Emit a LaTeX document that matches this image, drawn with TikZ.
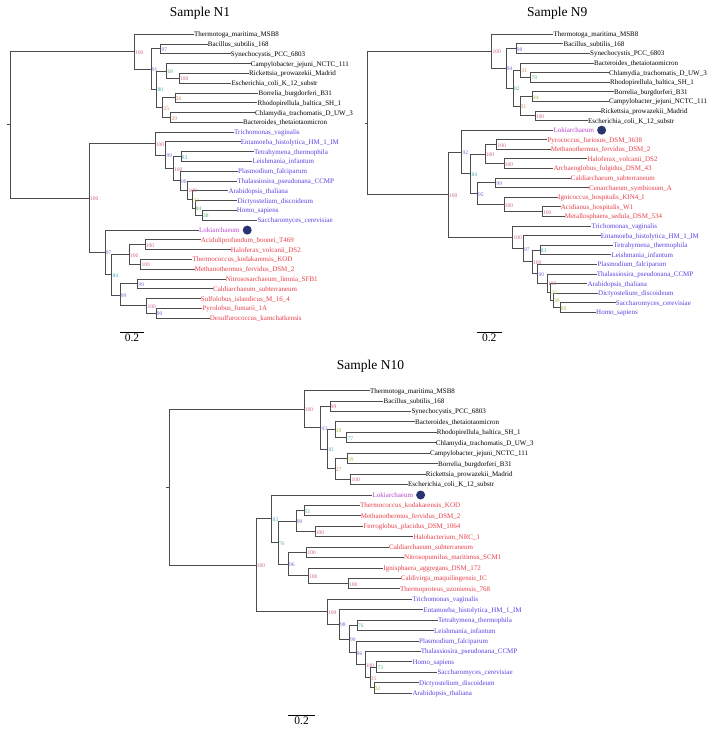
\documentclass[tikz,border=0pt]{standalone}
\usepackage{fontspec}
\setmainfont{Liberation Serif}
\usetikzlibrary{positioning}

\definecolor{ceuk}{RGB}{90,65,225}
\definecolor{carc}{RGB}{232,62,72}
\definecolor{clok}{RGB}{185,70,205}
\definecolor{cdot}{RGB}{42,52,112}
\definecolor{bsa}{RGB}{205,95,150}
\definecolor{bsb}{RGB}{125,100,210}
\definecolor{bsc}{RGB}{70,165,185}
\definecolor{bsd}{RGB}{85,180,110}
\definecolor{bse}{RGB}{185,180,70}
\definecolor{bsf}{RGB}{205,130,100}

\tikzset{
  br/.style={draw=black!70, line width=1pt, line cap=rect},
  leaf/.style={anchor=west, inner xsep=0.7pt, inner ysep=0pt, text height=1.5ex, text depth=0.45ex, font=\fontsize{7}{8}\selectfont},
  bac/.style={leaf, text=black},
  euk/.style={leaf, text=ceuk},
  arc/.style={leaf, text=carc},
  lok/.style={leaf, text=clok},
  bs/.style={anchor=west, inner xsep=0.6pt, inner ysep=0pt, text height=1.5ex, text depth=0.4ex, font=\fontsize{5.5}{6}\selectfont, text=#1},
  lokidot/.style={circle, fill=cdot, minimum size=9pt, inner sep=0pt},
  treetitle/.style={font=\fontsize{13.5}{15}\selectfont},
  scalebar/.style={draw=black, line width=0.6pt},
  scalelbl/.style={font=\fontsize{11.5}{13}\selectfont, inner sep=1pt},
}

\begin{document}
\begin{tikzpicture}[x=1pt, y=-1pt]
\useasboundingbox (0,0) rectangle (711,734);

% Sample N1
\node[treetitle] (n1title) at (200,13.3) {Sample N1};
\begin{scope}[yshift=-34.3pt, y=-9.79pt]
% leaves
\node[bac] (n1thermo) at (193.3,0) {Thermotoga\_maritima\_MSB8};
\node[bac] (n1bacil) at (207,1) {Bacillus\_subtilis\_168};
\node[bac] (n1synec) at (230,2) {Synechocystis\_PCC\_6803};
\node[bac] (n1campy) at (250,3) {Campylobacter\_jejuni\_NCTC\_111};
\node[bac] (n1ricke) at (248.3,4) {Rickettsia\_prowazekii\_Madrid};
\node[bac] (n1esche) at (230.7,5) {Escherichia\_coli\_K\_12\_substr};
\node[bac] (n1borre) at (257.7,6) {Borrelia\_burgdorferi\_B31};
\node[bac] (n1rhodo) at (256.7,7) {Rhodopirellula\_baltica\_SH\_1};
\node[bac] (n1chlam) at (254.3,8) {Chlamydia\_trachomatis\_D\_UW\_3};
\node[bac] (n1bacte) at (242.3,9) {Bacteroides\_thetaiotaomicron};
\node[euk] (n1trich) at (233.3,10) {Trichomonas\_vaginalis};
\node[euk] (n1entam) at (240,11) {Entamoeba\_histolytica\_HM\_1\_IM};
\node[euk] (n1tetra) at (253.3,12) {Tetrahymena\_thermophila};
\node[euk] (n1leish) at (251.7,13) {Leishmania\_infantum};
\node[euk] (n1plasm) at (237.3,14) {Plasmodium\_falciparum};
\node[euk] (n1thala) at (236.7,15) {Thalassiosira\_pseudonana\_CCMP};
\node[euk] (n1arabi) at (227.7,16) {Arabidopsis\_thaliana};
\node[euk] (n1dicty) at (236.7,17) {Dictyostelium\_discoideum};
\node[euk] (n1homo) at (236,18) {Homo\_sapiens};
\node[euk] (n1sacch) at (256.7,19) {Saccharomyces\_cerevisiae};
\node[lok] (n1loki) at (198.3,20) {Lokiarchaeum};
\node[lokidot, right=2pt of n1loki] (n1dot) {};
\node[arc] (n1acidu) at (200,21) {Aciduliprofundum\_boonei\_T469};
\node[arc] (n1halof) at (230,22) {Haloferax\_volcanii\_DS2};
\node[arc] (n1tkoda) at (191.7,23) {Thermococcus\_kodakarensis\_KOD};
\node[arc] (n1metha) at (194,24) {Methanothermus\_fervidus\_DSM\_2};
\node[arc] (n1nitro) at (225,25) {Nitrososarchaeum\_limnia\_SFB1};
\node[arc] (n1caldi) at (212.3,26) {Caldiarchaeum\_subterraneum};
\node[arc] (n1sulfo) at (200,27) {Sulfolobus\_islandicus\_M\_16\_4};
\node[arc] (n1pyrol) at (201.7,28) {Pyrolobus\_fumarii\_1A};
\node[arc] (n1desul) at (209,29) {Desulfurococcus\_kamchatkensis};
% inner nodes
\coordinate (n1stub) at (7.7,9.26);
\coordinate (n1root) at (10.7,9.26);
\coordinate (n1A) at (134.3,1.78);
\coordinate (n1B) at (151,3.56);
\coordinate (n1C) at (160.7,1.5);
\coordinate (n1D) at (156.7,5.63);
\coordinate (n1E) at (166.7,3.75);
\coordinate (n1G) at (179.3,4.5);
\coordinate (n1F) at (162.7,7.5);
\coordinate (n1H) at (175,6.5);
\coordinate (n1I) at (170.7,8.5);
\coordinate (n1R) at (89.3,16.73);
\coordinate (n1J) at (155,11.18);
\coordinate (n1L) at (165.7,12.37);
\coordinate (n1M) at (173.3,13.73);
\coordinate (n1N) at (181,12.5);
\coordinate (n1O) at (180.3,14.97);
\coordinate (n1P) at (187.7,15.94);
\coordinate (n1Q) at (192.7,16.88);
\coordinate (n1S) at (195,17.75);
\coordinate (n1T) at (202.3,18.5);
\coordinate (n1K) at (105,22.28);
\coordinate (n1U) at (111.7,24.56);
\coordinate (n1V) at (129.3,22.5);
\coordinate (n1X) at (145,21.5);
\coordinate (n1Y) at (140.7,23.5);
\coordinate (n1W) at (120,26.63);
\coordinate (n1Z) at (137.7,25.5);
\coordinate (n1AA) at (146.7,27.75);
\coordinate (n1AB) at (156,28.5);
% branches
\draw[br] (n1stub) -- (n1root);
\draw[br] (n1root) |- (n1A) (n1root) |- (n1R);
\draw[br] (n1A) |- (n1thermo.west) (n1A) |- (n1B);
\draw[br] (n1B) |- (n1C) (n1B) |- (n1D);
\draw[br] (n1C) |- (n1bacil.west) (n1C) |- (n1synec.west);
\draw[br] (n1D) |- (n1E) (n1D) |- (n1F);
\draw[br] (n1E) |- (n1campy.west) (n1E) |- (n1G);
\draw[br] (n1G) |- (n1ricke.west) (n1G) |- (n1esche.west);
\draw[br] (n1F) |- (n1H) (n1F) |- (n1I);
\draw[br] (n1H) |- (n1borre.west) (n1H) |- (n1rhodo.west);
\draw[br] (n1I) |- (n1chlam.west) (n1I) |- (n1bacte.west);
\draw[br] (n1R) |- (n1J) (n1R) |- (n1K);
\draw[br] (n1J) |- (n1trich.west) (n1J) |- (n1L);
\draw[br] (n1L) |- (n1entam.west) (n1L) |- (n1M);
\draw[br] (n1M) |- (n1N) (n1M) |- (n1O);
\draw[br] (n1N) |- (n1tetra.west) (n1N) |- (n1leish.west);
\draw[br] (n1O) |- (n1plasm.west) (n1O) |- (n1P);
\draw[br] (n1P) |- (n1thala.west) (n1P) |- (n1Q);
\draw[br] (n1Q) |- (n1arabi.west) (n1Q) |- (n1S);
\draw[br] (n1S) |- (n1dicty.west) (n1S) |- (n1T);
\draw[br] (n1T) |- (n1homo.west) (n1T) |- (n1sacch.west);
\draw[br] (n1K) |- (n1loki.west) (n1K) |- (n1U);
\draw[br] (n1U) |- (n1V) (n1U) |- (n1W);
\draw[br] (n1V) |- (n1X) (n1V) |- (n1Y);
\draw[br] (n1X) |- (n1acidu.west) (n1X) |- (n1halof.west);
\draw[br] (n1Y) |- (n1tkoda.west) (n1Y) |- (n1metha.west);
\draw[br] (n1W) |- (n1Z) (n1W) |- (n1AA);
\draw[br] (n1Z) |- (n1nitro.west) (n1Z) |- (n1caldi.west);
\draw[br] (n1AA) |- (n1sulfo.west) (n1AA) |- (n1AB);
\draw[br] (n1AB) |- (n1pyrol.west) (n1AB) |- (n1desul.west);
% support values
\node[bs=bsa] (n1Ab) at (n1A) {100};
\node[bs=bsb] (n1Bb) at (n1B) {91};
\node[bs=bsb] (n1Cb) at (n1C) {97};
\node[bs=bsc] (n1Db) at (n1D) {80};
\node[bs=bsd] (n1Eb) at (n1E) {69};
\node[bs=bsa] (n1Gb) at (n1G) {100};
\node[bs=bsf] (n1Fb) at (n1F) {25};
\node[bs=bsf] (n1Hb) at (n1H) {26};
\node[bs=bsf] (n1Ib) at (n1I) {29};
\node[bs=bsa] (n1Rb) at (n1R) {100};
\node[bs=bsa] (n1Jb) at (n1J) {100};
\node[bs=bsb] (n1Lb) at (n1L) {99};
\node[bs=bsa] (n1Mb) at (n1M) {100};
\node[bs=bsc] (n1Nb) at (n1N) {83};
\node[bs=bsb] (n1Ob) at (n1O) {90};
\node[bs=bsa] (n1Pb) at (n1P) {100};
\node[bs=bse] (n1Qb) at (n1Q) {32};
\node[bs=bsd] (n1Sb) at (n1S) {84};
\node[bs=bsd] (n1Tb) at (n1T) {38};
\node[bs=bsb] (n1Kb) at (n1K) {97};
\node[bs=bsc] (n1Ub) at (n1U) {84};
\node[bs=bsa] (n1Vb) at (n1V) {100};
\node[bs=bsa] (n1Xb) at (n1X) {100};
\node[bs=bsa] (n1Yb) at (n1Y) {100};
\node[bs=bsb] (n1Wb) at (n1W) {99};
\node[bs=bsb] (n1Zb) at (n1Z) {99};
\node[bs=bsa] (n1AAb) at (n1AA) {100};
\node[bs=bsb] (n1ABb) at (n1AB) {90};
\end{scope}
\coordinate (n1sa) at (120,332.3);
\coordinate (n1sb) at (144,332.3);
\draw[scalebar] (n1sa) -- (n1sb) node[midway, below, scalelbl] (n1sl) {0.2};

% Sample N9
\node[treetitle] (n9title) at (557.2,13.3) {Sample N9};
\begin{scope}[yshift=-34.3pt, y=-9.59pt]
% leaves
\node[bac] (n9thermo) at (552.7,0) {Thermotoga\_maritima\_MSB8};
\node[bac] (n9bacil) at (562.7,1) {Bacillus\_subtilis\_168};
\node[bac] (n9synec) at (589.3,2) {Synechocystis\_PCC\_6803};
\node[bac] (n9bacte) at (593.3,3) {Bacteroides\_thetaiotaomicron};
\node[bac] (n9chlam) at (608.3,4) {Chlamydia\_trachomatis\_D\_UW\_3};
\node[bac] (n9rhodo) at (609.3,5) {Rhodopirellula\_baltica\_SH\_1};
\node[bac] (n9borre) at (613.3,6) {Borrelia\_burgdorferi\_B31};
\node[bac] (n9campy) at (608.3,7) {Campylobacter\_jejuni\_NCTC\_111};
\node[bac] (n9ricke) at (600,8) {Rickettsia\_prowazekii\_Madrid};
\node[bac] (n9esche) at (587.3,9) {Escherichia\_coli\_K\_12\_substr};
\node[lok] (n9loki) at (552.7,10) {Lokiarchaeum};
\node[lokidot, right=2pt of n9loki] (n9dot) {};
\node[arc] (n9pyroc) at (546.7,11) {Pyrococcus\_furiosus\_DSM\_3638};
\node[arc] (n9metha) at (550,12) {Methanothermus\_fervidus\_DSM\_2};
\node[arc] (n9halof) at (586.7,13) {Haloferax\_volcanii\_DS2};
\node[arc] (n9archa) at (552.7,14) {Archaeoglobus\_fulgidus\_DSM\_43};
\node[arc] (n9caldi) at (570,15) {Caldiarchaeum\_subterraneum};
\node[arc] (n9cenar) at (588.3,16) {Cenarchaeum\_symbiosum\_A};
\node[arc] (n9ignic) at (557.3,17) {Ignicoccus\_hospitalis\_KIN4\_I};
\node[arc] (n9acidi) at (560,18) {Acidianus\_hospitalis\_W1};
\node[arc] (n9metal) at (564,19) {Metallosphaera\_sedula\_DSM\_534};
\node[euk] (n9trich) at (590.7,20) {Trichomonas\_vaginalis};
\node[euk] (n9entam) at (600,21) {Entamoeba\_histolytica\_HM\_1\_IM};
\node[euk] (n9tetra) at (612.7,22) {Tetrahymena\_thermophila};
\node[euk] (n9leish) at (610.7,23) {Leishmania\_infantum};
\node[euk] (n9plasm) at (596.7,24) {Plasmodium\_falciparum};
\node[euk] (n9thala) at (596,25) {Thalassiosira\_pseudonana\_CCMP};
\node[euk] (n9arabi) at (586.7,26) {Arabidopsis\_thaliana};
\node[euk] (n9dicty) at (597.3,27) {Dictyostelium\_discoideum};
\node[euk] (n9sacch) at (615,28) {Saccharomyces\_cerevisiae};
\node[euk] (n9homo) at (595.3,29) {Homo\_sapiens};
% inner nodes
\coordinate (n9stub) at (365,9.26);
\coordinate (n9root) at (367.3,9.26);
\coordinate (n9A) at (491.7,1.78);
\coordinate (n9B) at (506,3.56);
\coordinate (n9C) at (516,1.5);
\coordinate (n9D) at (513.3,5.63);
\coordinate (n9E) at (520.7,3.75);
\coordinate (n9G) at (530.7,4.5);
\coordinate (n9F) at (520,7.5);
\coordinate (n9H) at (532.3,6.5);
\coordinate (n9I) at (535,8.5);
\coordinate (n9R) at (448.3,16.73);
\coordinate (n9K) at (461.7,12.28);
\coordinate (n9U) at (470.7,14.56);
\coordinate (n9V) at (485,12.5);
\coordinate (n9X) at (496.7,11.5);
\coordinate (n9Y) at (504,13.5);
\coordinate (n9W) at (477.3,16.63);
\coordinate (n9Z) at (495.7,15.5);
\coordinate (n9AA) at (504,17.75);
\coordinate (n9AB) at (542.3,18.5);
\coordinate (n9J) at (512.7,21.18);
\coordinate (n9L) at (523.3,22.37);
\coordinate (n9M) at (532.3,23.73);
\coordinate (n9N) at (540,22.5);
\coordinate (n9O) at (537.7,24.97);
\coordinate (n9P) at (547.3,25.94);
\coordinate (n9Q) at (550.7,26.88);
\coordinate (n9S) at (553.3,27.75);
\coordinate (n9T) at (560,28.5);
% branches
\draw[br] (n9stub) -- (n9root);
\draw[br] (n9root) |- (n9A) (n9root) |- (n9R);
\draw[br] (n9A) |- (n9thermo.west) (n9A) |- (n9B);
\draw[br] (n9B) |- (n9C) (n9B) |- (n9D);
\draw[br] (n9C) |- (n9bacil.west) (n9C) |- (n9synec.west);
\draw[br] (n9D) |- (n9E) (n9D) |- (n9F);
\draw[br] (n9E) |- (n9bacte.west) (n9E) |- (n9G);
\draw[br] (n9G) |- (n9chlam.west) (n9G) |- (n9rhodo.west);
\draw[br] (n9F) |- (n9H) (n9F) |- (n9I);
\draw[br] (n9H) |- (n9borre.west) (n9H) |- (n9campy.west);
\draw[br] (n9I) |- (n9ricke.west) (n9I) |- (n9esche.west);
\draw[br] (n9R) |- (n9K) (n9R) |- (n9J);
\draw[br] (n9K) |- (n9loki.west) (n9K) |- (n9U);
\draw[br] (n9U) |- (n9V) (n9U) |- (n9W);
\draw[br] (n9V) |- (n9X) (n9V) |- (n9Y);
\draw[br] (n9X) |- (n9pyroc.west) (n9X) |- (n9metha.west);
\draw[br] (n9Y) |- (n9halof.west) (n9Y) |- (n9archa.west);
\draw[br] (n9W) |- (n9Z) (n9W) |- (n9AA);
\draw[br] (n9Z) |- (n9caldi.west) (n9Z) |- (n9cenar.west);
\draw[br] (n9AA) |- (n9ignic.west) (n9AA) |- (n9AB);
\draw[br] (n9AB) |- (n9acidi.west) (n9AB) |- (n9metal.west);
\draw[br] (n9J) |- (n9trich.west) (n9J) |- (n9L);
\draw[br] (n9L) |- (n9entam.west) (n9L) |- (n9M);
\draw[br] (n9M) |- (n9N) (n9M) |- (n9O);
\draw[br] (n9N) |- (n9tetra.west) (n9N) |- (n9leish.west);
\draw[br] (n9O) |- (n9plasm.west) (n9O) |- (n9P);
\draw[br] (n9P) |- (n9thala.west) (n9P) |- (n9Q);
\draw[br] (n9Q) |- (n9arabi.west) (n9Q) |- (n9S);
\draw[br] (n9S) |- (n9dicty.west) (n9S) |- (n9T);
\draw[br] (n9T) |- (n9sacch.west) (n9T) |- (n9homo.west);
% support values
\node[bs=bsa] (n9Ab) at (n9A) {100};
\node[bs=bsb] (n9Bb) at (n9B) {94};
\node[bs=bsb] (n9Cb) at (n9C) {98};
\node[bs=bsd] (n9Db) at (n9D) {82};
\node[bs=bsf] (n9Eb) at (n9E) {31};
\node[bs=bsd] (n9Gb) at (n9G) {78};
\node[bs=bsf] (n9Fb) at (n9F) {31};
\node[bs=bse] (n9Hb) at (n9H) {44};
\node[bs=bsa] (n9Ib) at (n9I) {100};
\node[bs=bsa] (n9Rb) at (n9R) {100};
\node[bs=bsb] (n9Kb) at (n9K) {92};
\node[bs=bsc] (n9Ub) at (n9U) {84};
\node[bs=bsa] (n9Vb) at (n9V) {100};
\node[bs=bsa] (n9Xb) at (n9X) {100};
\node[bs=bsa] (n9Yb) at (n9Y) {100};
\node[bs=bsb] (n9Wb) at (n9W) {95};
\node[bs=bsb] (n9Zb) at (n9Z) {99};
\node[bs=bsa] (n9AAb) at (n9AA) {100};
\node[bs=bsa] (n9ABb) at (n9AB) {100};
\node[bs=bsa] (n9Jb) at (n9J) {100};
\node[bs=bsb] (n9Lb) at (n9L) {97};
\node[bs=bsa] (n9Mb) at (n9M) {100};
\node[bs=bsc] (n9Nb) at (n9N) {83};
\node[bs=bsb] (n9Ob) at (n9O) {90};
\node[bs=bsa] (n9Pb) at (n9P) {100};
\node[bs=bse] (n9Qb) at (n9Q) {32};
\node[bs=bse] (n9Sb) at (n9S) {39};
\node[bs=bse] (n9Tb) at (n9T) {88};
\end{scope}
\coordinate (n9sa) at (476.7,332.7);
\coordinate (n9sb) at (501.7,332.7);
\draw[scalebar] (n9sa) -- (n9sb) node[midway, below, scalelbl] (n9sl) {0.2};

% Sample N10
\node[treetitle] (n10title) at (370.5,366.7) {Sample N10};
\begin{scope}[yshift=-390.7pt, y=-10.43pt]
% leaves
\node[bac] (n10thermo) at (369.3,0) {Thermotoga\_maritima\_MSB8};
\node[bac] (n10bacil) at (382.7,1) {Bacillus\_subtilis\_168};
\node[bac] (n10synec) at (410.7,2) {Synechocystis\_PCC\_6803};
\node[bac] (n10bacte) at (414.3,3) {Bacteroides\_thetaiotaomicron};
\node[bac] (n10rhodo) at (436,4) {Rhodopirellula\_baltica\_SH\_1};
\node[bac] (n10chlam) at (435,5) {Chlamydia\_trachomatis\_D\_UW\_3};
\node[bac] (n10campy) at (429.3,6) {Campylobacter\_jejuni\_NCTC\_111};
\node[bac] (n10borre) at (437.3,7) {Borrelia\_burgdorferi\_B31};
\node[bac] (n10ricke) at (425,8) {Rickettsia\_prowazekii\_Madrid};
\node[bac] (n10esche) at (407.3,9) {Escherichia\_coli\_K\_12\_substr};
\node[lok] (n10loki) at (371.7,10) {Lokiarchaeum};
\node[lokidot, right=2pt of n10loki] (n10dot) {};
\node[arc] (n10tkoda) at (359.3,11) {Thermococcus\_kodakarensis\_KOD};
\node[arc] (n10metha) at (360,12) {Methanothermus\_fervidus\_DSM\_2};
\node[arc] (n10ferro) at (362.7,13) {Ferroglobus\_placidus\_DSM\_1064};
\node[arc] (n10halob) at (412.7,14) {Halobacterium\_NRC\_1};
\node[arc] (n10caldi) at (388.3,15) {Caldiarchaeum\_subterraneum};
\node[arc] (n10nitro) at (403.3,16) {Nitrosopumilus\_maritimus\_SCM1};
\node[arc] (n10ignis) at (382.7,17) {Ignisphaera\_aggregans\_DSM\_172};
\node[arc] (n10caldv) at (400,18) {Caldivirga\_maquilingensis\_IC};
\node[arc] (n10thpro) at (399.3,19) {Thermoproteus\_uzoniensis\_768};
\node[euk] (n10trich) at (411.7,20) {Trichomonas\_vaginalis};
\node[euk] (n10entam) at (422.7,21) {Entamoeba\_histolytica\_HM\_1\_IM};
\node[euk] (n10tetra) at (437.3,22) {Tetrahymena\_thermophila};
\node[euk] (n10leish) at (433.3,23) {Leishmania\_infantum};
\node[euk] (n10plasm) at (418.3,24) {Plasmodium\_falciparum};
\node[euk] (n10thala) at (420,25) {Thalassiosira\_pseudonana\_CCMP};
\node[euk] (n10homo) at (411.7,26) {Homo\_sapiens};
\node[euk] (n10sacch) at (436.7,27) {Saccharomyces\_cerevisiae};
\node[euk] (n10dicty) at (418.3,28) {Dictyostelium\_discoideum};
\node[euk] (n10arabi) at (411.7,29) {Arabidopsis\_thaliana};
% inner nodes
\coordinate (n10stub) at (166,9.26);
\coordinate (n10root) at (169.3,9.26);
\coordinate (n10A) at (304,1.78);
\coordinate (n10B) at (320.7,3.56);
\coordinate (n10C) at (330,1.5);
\coordinate (n10D) at (327.7,5.63);
\coordinate (n10E) at (335,3.75);
\coordinate (n10G) at (346.7,4.5);
\coordinate (n10F) at (335,7.5);
\coordinate (n10H) at (347.3,6.5);
\coordinate (n10I) at (350.7,8.5);
\coordinate (n10R) at (256,16.74);
\coordinate (n10K) at (271.7,12.28);
\coordinate (n10U) at (278.3,14.56);
\coordinate (n10V) at (296,12.5);
\coordinate (n10X) at (304,11.5);
\coordinate (n10Y) at (315,13.5);
\coordinate (n10W) at (288.3,16.63);
\coordinate (n10Z) at (306.7,15.5);
\coordinate (n10AA) at (308.3,17.75);
\coordinate (n10AB) at (348.3,18.5);
\coordinate (n10J) at (327.3,21.2);
\coordinate (n10L) at (339.3,22.41);
\coordinate (n10M) at (349.3,23.81);
\coordinate (n10N) at (357.3,22.5);
\coordinate (n10O) at (356,25.13);
\coordinate (n10P) at (365,26.25);
\coordinate (n10Q) at (370,27.5);
\coordinate (n10HS) at (376.7,26.5);
\coordinate (n10DA) at (374,28.5);
% branches
\draw[br] (n10stub) -- (n10root);
\draw[br] (n10root) |- (n10A) (n10root) |- (n10R);
\draw[br] (n10A) |- (n10thermo.west) (n10A) |- (n10B);
\draw[br] (n10B) |- (n10C) (n10B) |- (n10D);
\draw[br] (n10C) |- (n10bacil.west) (n10C) |- (n10synec.west);
\draw[br] (n10D) |- (n10E) (n10D) |- (n10F);
\draw[br] (n10E) |- (n10bacte.west) (n10E) |- (n10G);
\draw[br] (n10G) |- (n10rhodo.west) (n10G) |- (n10chlam.west);
\draw[br] (n10F) |- (n10H) (n10F) |- (n10I);
\draw[br] (n10H) |- (n10campy.west) (n10H) |- (n10borre.west);
\draw[br] (n10I) |- (n10ricke.west) (n10I) |- (n10esche.west);
\draw[br] (n10R) |- (n10K) (n10R) |- (n10J);
\draw[br] (n10K) |- (n10loki.west) (n10K) |- (n10U);
\draw[br] (n10U) |- (n10V) (n10U) |- (n10W);
\draw[br] (n10V) |- (n10X) (n10V) |- (n10Y);
\draw[br] (n10X) |- (n10tkoda.west) (n10X) |- (n10metha.west);
\draw[br] (n10Y) |- (n10ferro.west) (n10Y) |- (n10halob.west);
\draw[br] (n10W) |- (n10Z) (n10W) |- (n10AA);
\draw[br] (n10Z) |- (n10caldi.west) (n10Z) |- (n10nitro.west);
\draw[br] (n10AA) |- (n10ignis.west) (n10AA) |- (n10AB);
\draw[br] (n10AB) |- (n10caldv.west) (n10AB) |- (n10thpro.west);
\draw[br] (n10J) |- (n10trich.west) (n10J) |- (n10L);
\draw[br] (n10L) |- (n10entam.west) (n10L) |- (n10M);
\draw[br] (n10M) |- (n10N) (n10M) |- (n10O);
\draw[br] (n10N) |- (n10tetra.west) (n10N) |- (n10leish.west);
\draw[br] (n10O) |- (n10plasm.west) (n10O) |- (n10P);
\draw[br] (n10P) |- (n10thala.west) (n10P) |- (n10Q);
\draw[br] (n10Q) |- (n10HS) (n10Q) |- (n10DA);
\draw[br] (n10HS) |- (n10homo.west) (n10HS) |- (n10sacch.west);
\draw[br] (n10DA) |- (n10dicty.west) (n10DA) |- (n10arabi.west);
% support values
\node[bs=bsa] (n10Ab) at (n10A) {100};
\node[bs=bsb] (n10Bb) at (n10B) {93};
\node[bs=bsa] (n10Cb) at (n10C) {99};
\node[bs=bsc] (n10Db) at (n10D) {81};
\node[bs=bse] (n10Eb) at (n10E) {38};
\node[bs=bsc] (n10Gb) at (n10G) {77};
\node[bs=bsf] (n10Fb) at (n10F) {27};
\node[bs=bse] (n10Hb) at (n10H) {39};
\node[bs=bsa] (n10Ib) at (n10I) {100};
\node[bs=bsa] (n10Rb) at (n10R) {100};
\node[bs=bsc] (n10Kb) at (n10K) {83};
\node[bs=bsd] (n10Ub) at (n10U) {76};
\node[bs=bsb] (n10Vb) at (n10V) {99};
\node[bs=bsd] (n10Xb) at (n10X) {51};
\node[bs=bsa] (n10Yb) at (n10Y) {100};
\node[bs=bsb] (n10Wb) at (n10W) {96};
\node[bs=bsa] (n10Zb) at (n10Z) {100};
\node[bs=bsa] (n10AAb) at (n10AA) {100};
\node[bs=bsa] (n10ABb) at (n10AB) {100};
\node[bs=bsa] (n10Jb) at (n10J) {100};
\node[bs=bsb] (n10Lb) at (n10L) {98};
\node[bs=bsb] (n10Mb) at (n10M) {90};
\node[bs=bsd] (n10Nb) at (n10N) {76};
\node[bs=bsb] (n10Ob) at (n10O) {96};
\node[bs=bsa] (n10Pb) at (n10P) {100};
\node[bs=bsf] (n10Qb) at (n10Q) {35};
\node[bs=bsd] (n10HSb) at (n10HS) {73};
\node[bs=bse] (n10DAb) at (n10DA) {32};
\end{scope}
\coordinate (n10sa) at (288.3,715.3);
\coordinate (n10sb) at (315,715.3);
\draw[scalebar] (n10sa) -- (n10sb) node[midway, below, scalelbl] (n10sl) {0.2};

\end{tikzpicture}
\end{document}
